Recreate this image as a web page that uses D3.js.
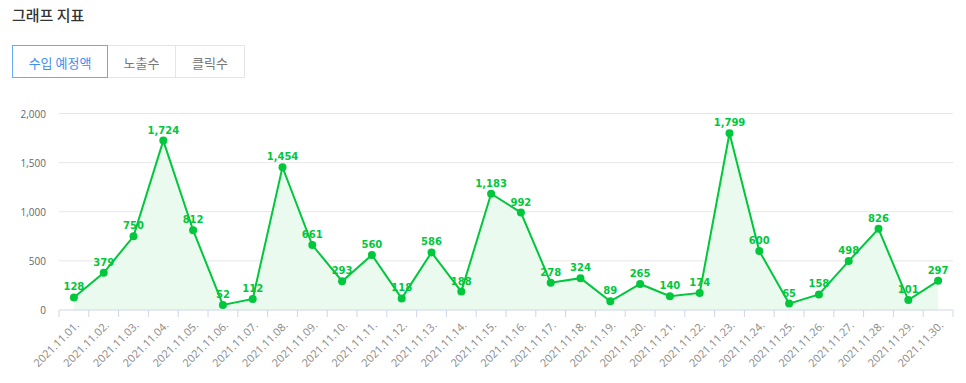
<!DOCTYPE html>
<html>
<head>
<meta charset="utf-8">
<script src="https://cdn.jsdelivr.net/npm/d3@7"></script>
<style>
  body { margin: 0; background: #fff; font-family: "Noto Sans CJK KR", "Noto Sans", sans-serif; }
  .title { position: absolute; left: 12px; top: 4px; font-size: 15px; color: #333; font-weight: 500; }
  .tabs { position: absolute; left: 12px; top: 45px; display: flex; }
  .tab { height: 33px; line-height: 33px; font-size: 13px; color: #777; border: 1px solid #e5e5e5; border-left: none; text-align: center; box-sizing: border-box; }
  .tab.on { color: #3d8ef5; border: 1px solid #6aabf7; }
</style>
</head>
<body>
<div class="title">그래프 지표</div>
<div class="tabs">
  <div class="tab on" style="width:96px">수입 예정액</div>
  <div class="tab" style="width:68px">노출수</div>
  <div class="tab" style="width:69px">클릭수</div>
</div>
<svg class="chart" style="position:absolute;left:0;top:0"></svg>
<script>
var dates = ["2021.11.01.", "2021.11.02.", "2021.11.03.", "2021.11.04.", "2021.11.05.", "2021.11.06.",
  "2021.11.07.", "2021.11.08.", "2021.11.09.", "2021.11.10.", "2021.11.11.", "2021.11.12.",
  "2021.11.13.", "2021.11.14.", "2021.11.15.", "2021.11.16.", "2021.11.17.", "2021.11.18.",
  "2021.11.19.", "2021.11.20.", "2021.11.21.", "2021.11.22.", "2021.11.23.", "2021.11.24.",
  "2021.11.25.", "2021.11.26.", "2021.11.27.", "2021.11.28.", "2021.11.29.", "2021.11.30."];
var revenue = [128, 379, 750, 1724, 812, 52, 112, 1454, 661, 293, 560, 118, 586, 188, 1183,
  992, 278, 324, 89, 265, 140, 174, 1799, 600, 65, 158, 498, 826, 101, 297];
var yTicks = [0, 500, 1000, 1500, 2000];

var margin = {top: 113.5, left: 59, right: 13, bottom: 73};
var W = 966, H = 383;
var width = W - margin.left - margin.right;
var height = H - margin.top - margin.bottom;

var svg = d3.select('.chart').attr('width', W).attr('height', H);
var chart = svg.append('g').attr('transform', 'translate(' + margin.left + ',' + margin.top + ')');

var x = d3.scaleBand().domain(dates).range([0, width]);
var y = d3.scaleLinear().domain([0, 2000]).range([height, 0]);
var fmt = d3.format(',');
var green = '#00c73c';

// grid
chart.selectAll('.grid').data(yTicks.slice(1)).enter().append('line')
  .attr('x1', 0).attr('x2', width)
  .attr('y1', d => y(d)).attr('y2', d => y(d))
  .attr('stroke', '#e6e6e6').attr('stroke-width', 1);

// y labels
chart.selectAll('.ylab').data(yTicks).enter().append('text')
  .attr('x', -13).attr('y', d => y(d) + 4)
  .attr('text-anchor', 'end')
  .attr('font-size', 10).attr('fill', '#666')
  .attr('font-family', 'Open Sans, sans-serif')
  .text(d => fmt(d));

// area + line
var cx = d => x(d.date) + x.bandwidth() / 2;
var pts = dates.map((d, i) => ({date: d, v: revenue[i]}));
chart.append('path').datum(pts)
  .attr('fill', '#ebfaef')
  .attr('d', d3.area().x(cx).y0(y(0)).y1(d => y(d.v)));

// x axis
var xAxis = chart.append('g').attr('transform', 'translate(0,' + height + ')');
xAxis.append('line').attr('x1', 0).attr('x2', width).attr('stroke', '#ccd6eb');
xAxis.selectAll('.tick').data(d3.range(dates.length + 1)).enter().append('line')
  .attr('x1', i => i * x.bandwidth()).attr('x2', i => i * x.bandwidth())
  .attr('y1', 0).attr('y2', 7).attr('stroke', '#ccd6eb');
xAxis.selectAll('.xlab').data(dates).enter().append('text')
  .attr('transform', d => 'translate(' + (cx({date: d}) + 6) + ',16) rotate(-45)')
  .attr('text-anchor', 'end')
  .attr('font-size', 11).attr('fill', '#888')
  .attr('font-family', 'Open Sans, sans-serif')
  .text(d => d);

chart.append('path').datum(pts)
  .attr('fill', 'none').attr('stroke', green).attr('stroke-width', 2)
  .attr('d', d3.line().x(cx).y(d => y(d.v)));

chart.selectAll('.dot').data(pts).enter().append('circle')
  .attr('cx', cx).attr('cy', d => y(d.v)).attr('r', 4)
  .attr('fill', green);

chart.selectAll('.vlab').data(pts).enter().append('text')
  .attr('x', cx).attr('y', d => y(d.v) - 7)
  .attr('text-anchor', 'middle')
  .attr('font-size', 10).attr('font-weight', 'bold').attr('fill', green)
  .attr('font-family', 'DejaVu Sans, sans-serif')
  .text(d => fmt(d.v));
</script>
</body>
</html>
